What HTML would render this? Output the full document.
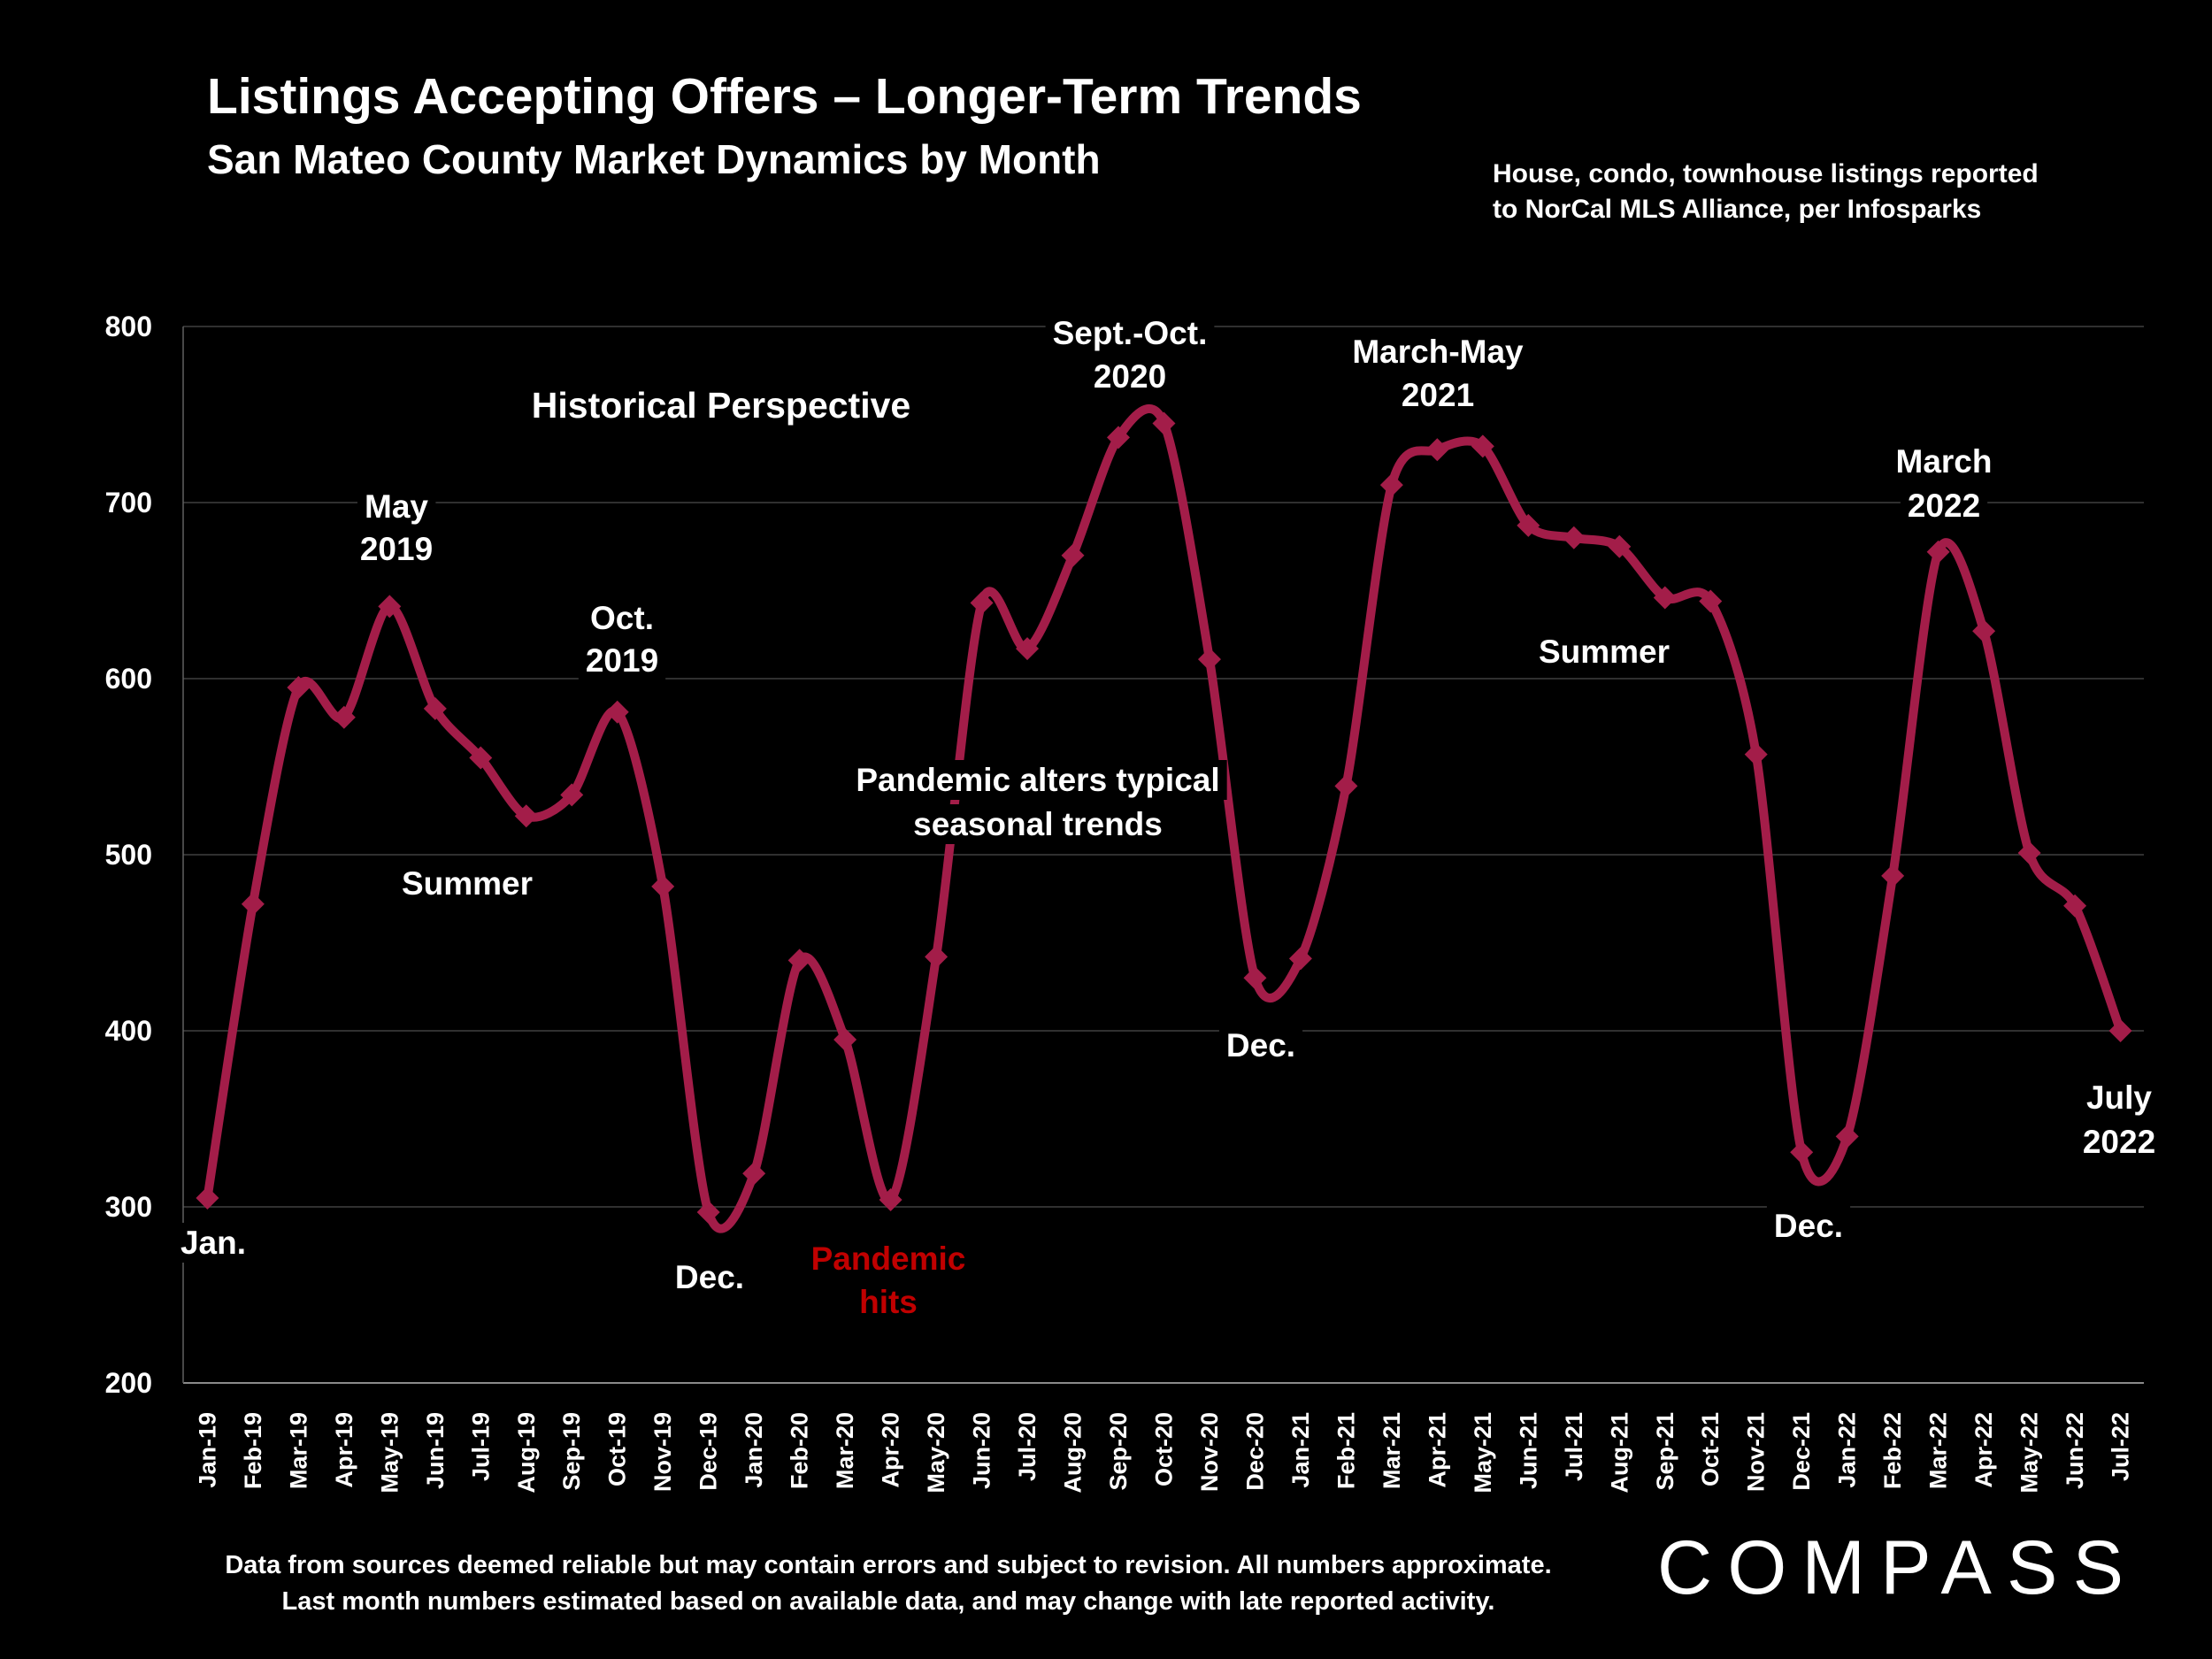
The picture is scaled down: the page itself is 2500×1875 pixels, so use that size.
<!DOCTYPE html>
<html><head><meta charset="utf-8"><style>
html,body{margin:0;padding:0;background:#000;}
svg{display:block;}
text{font-family:"Liberation Sans",sans-serif;font-weight:bold;fill:#fff;}
</style></head><body>
<svg id="s" width="2500" height="1875" viewBox="0 0 2500 1875" xmlns="http://www.w3.org/2000/svg">
<rect width="2500" height="1875" fill="#000"/>
<text x="234" y="128" font-size="57">Listings Accepting Offers – Longer-Term Trends</text>
<text x="234" y="196" font-size="46">San Mateo County Market Dynamics by Month</text>
<text x="1687" y="206" font-size="30">House, condo, townhouse listings reported</text>
<text x="1687" y="246" font-size="30">to NorCal MLS Alliance, per Infosparks</text>
<g id="grid"></g>
<g id="ser"></g>
<g id="lab" font-size="37" text-anchor="middle"></g>
<g text-anchor="middle" font-size="29" font-weight="bold">
<text x="1004" y="1778">Data from sources deemed reliable but may contain errors and subject to revision. All numbers approximate.</text>
<text x="1004" y="1819">Last month numbers estimated based on available data, and may change with late reported activity.</text>
</g>
<text x="1873" y="1801" font-size="86" style="font-weight:normal" textLength="527" lengthAdjust="spacing">COMPASS</text>
</svg>
<script>
var NS="http://www.w3.org/2000/svg";
function el(p,t,a,txt){var e=document.createElementNS(NS,t);for(var k in a)e.setAttribute(k,a[k]);if(txt!==undefined)e.textContent=txt;p.appendChild(e);return e;}
var L=207,R=2423,X0=234.4,DX=51.48;
function Y(v){return 1563-(v-200)*1.99;}
var g=document.getElementById('grid');
for(var v=200;v<=800;v+=100){
 el(g,'line',{x1:L,x2:R,y1:Y(v),y2:Y(v),stroke:v==200?'#8a8a8a':'#404040','stroke-width':v==200?2:1.5});
 el(g,'text',{x:172,y:Y(v)+11,'font-size':32,'text-anchor':'end'},v);
}
el(g,'line',{x1:L,x2:L,y1:Y(800),y2:Y(200),stroke:'#606060','stroke-width':1.5});
var d=[305,472,595,578,641,583,555,522,534,581,482,297,319,440,395,304,442,643,617,670,737,745,611,430,441,539,710,730,732,687,680,675,646,644,557,331,340,488,672,627,501,471,400];
var mn=['Jan','Feb','Mar','Apr','May','Jun','Jul','Aug','Sep','Oct','Nov','Dec'];
for(var i=0;i<d.length;i++){
 var x=X0+i*DX,yr=19+Math.floor(i/12);
 el(g,'text',{transform:'translate('+(x+9)+',1596) rotate(-90)','font-size':27,'text-anchor':'end'},mn[i%12]+'-'+yr);
}
var P=d.map(function(v,i){return [X0+i*DX,Y(v)];});
var s='M'+P[0][0]+','+P[0][1],k=7;
for(var i=0;i<P.length-1;i++){
 var p0=P[i-1]||P[i],p1=P[i],p2=P[i+1],p3=P[i+2]||P[i+1];
 var c1=[p1[0]+(p2[0]-p0[0])/k,p1[1]+(p2[1]-p0[1])/k],c2=[p2[0]-(p3[0]-p1[0])/k,p2[1]-(p3[1]-p1[1])/k];
 s+=' C'+c1+' '+c2+' '+p2;
}
var sr=document.getElementById('ser');
el(sr,'path',{d:s,fill:'none',stroke:'#a31d49','stroke-width':10,'stroke-linejoin':'round'});
P.forEach(function(p){var r=13;el(sr,'path',{d:'M'+(p[0]-r)+','+p[1]+' L'+p[0]+','+(p[1]-r)+' L'+(p[0]+r)+','+p[1]+' L'+p[0]+','+(p[1]+r)+'Z',fill:'#a31d49'});});
var lab=document.getElementById('lab');
var A=[["Historical Perspective",815,472,0,41],["May",448,585],["2019",448,633],["Oct.",703,711],["2019",703,759],["Summer",528,1011],["Jan.",241,1417],["Dec.",802,1456],["Pandemic",1004,1435,1],["hits",1004,1484,1],["Pandemic alters typical",1173,894],["seasonal trends",1173,944],["Sept.-Oct.",1277,389],["2020",1277,438],["March-May",1625,410],["2021",1625,459],["Dec.",1425,1194],["Summer",1813,749],["March",2197,534],["2022",2197,584],["Dec.",2044,1398],["July",2395,1253],["2022",2395,1303]];
A.forEach(function(a){
 var t=el(lab,'text',{x:a[1],y:a[2]},a[0]);if(a[3])t.style.fill='#c00000';
 if(a[4])t.setAttribute('font-size',a[4]);
 var b=t.getBBox();
 var r=document.createElementNS(NS,'rect');r.setAttribute('x',b.x-8);r.setAttribute('y',b.y-2);r.setAttribute('width',b.width+16);r.setAttribute('height',b.height+4);r.setAttribute('fill','#000');
 lab.insertBefore(r,t);
});
</script>
</body></html>
